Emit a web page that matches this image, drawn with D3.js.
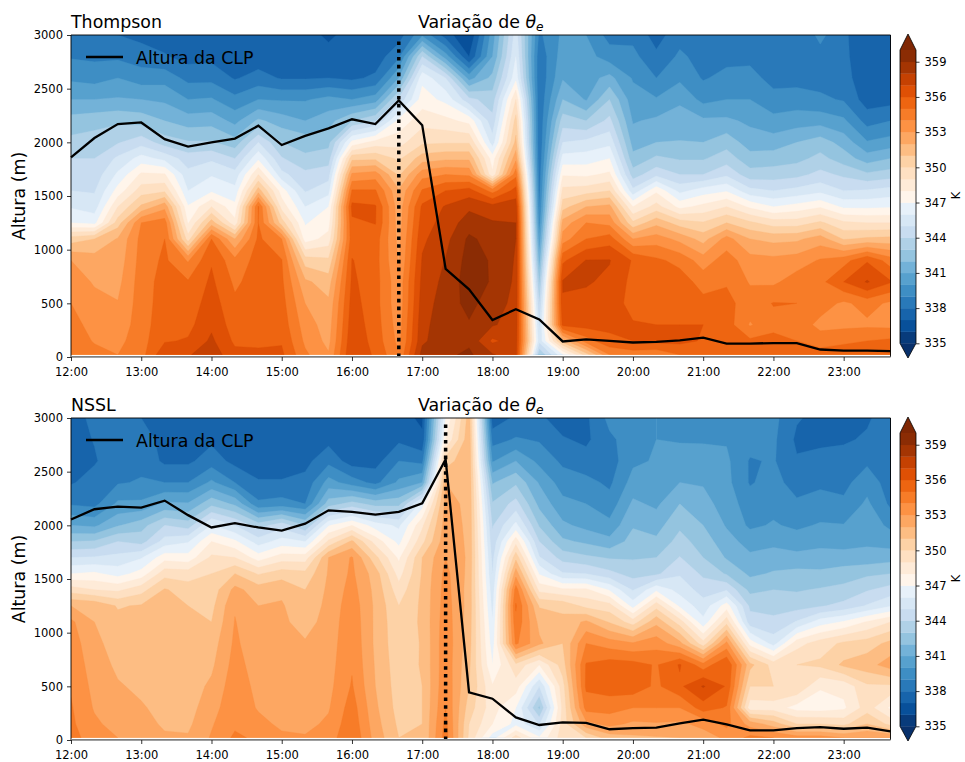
<!DOCTYPE html>
<html><head><meta charset="utf-8">
<script src="https://cdn.jsdelivr.net/npm/d3@7"></script>
<style>html,body{margin:0;background:#fff}svg{display:block}text{font-family:"DejaVu Sans",sans-serif;fill:#000}</style>
</head><body><svg id="c" width="965" height="762"></svg>
<script>
const heights=[20,150,300,500,700,900,1100,1250,1400,1550,1700,1850,2000,2200,2400,2600,2800,3000];
const hourLabels=["12:00","13:00","14:00","15:00","16:00","17:00","18:00","19:00","20:00","21:00","22:00","23:00"];
const hourTicks=[12,13,14,15,16,17,18,19,20,21,22,23];
const heightTicks=[0,500,1000,1500,2000,2500,3000];
const levels=d3.range(335,361);
const cbarTicks=[335,338,341,344,347,350,353,356,359];
const times=d3.range(36).map(i=>12+i/3);
const clpThompson=[1860,2040,2170,2185,2030,1960,2000,2035,2155,1975,2060,2130,2215,2170,2390,2160,820,630,345,445,350,145,165,150,135,140,155,180,125,125,130,130,70,60,60,55];
const clpNSSL=[2055,2150,2175,2165,2230,2095,1980,2020,1980,1950,2015,2140,2125,2100,2125,2205,2615,445,385,210,140,165,160,100,110,115,155,190,145,90,90,110,120,105,115,80];
const thetaThompson=[
[355,354.7,354.3,354,353.5,353,350.5,347,345.9,345,344.6,344,343.3,342.4,341,339.8,338.9,338.3],
[354.4,353.9,353.7,353.3,352.9,352.5,351,346.7,345.5,344.9,344.4,344,343.5,342.6,341,339.6,338.8,338.1],
[354,353.7,353.4,353.05,352.7,352.4,352.1,350.5,349,347.4,346.2,345.2,343.9,342.8,341.1,340,338.8,338],
[354.6,354.6,354.5,354.5,354.5,354.4,354.3,354,351.2,349.5,348.2,346.4,344.6,342.6,341,339.5,338.5,337.7],
[356.8,355.9,355.7,355.5,355.4,355.2,355,354.5,352.7,349.8,348.1,345.7,343.5,342,340.8,339.6,338.1,337.5],
[356.9,356.1,355.7,355.4,355.1,353.9,349.5,347.9,347.1,346,345.3,344.5,343.1,341.5,340,338.7,337.6,337.2],
[357.6,357.2,356.8,356.5,356.2,355.9,355,351.5,349,346.8,345.9,344.8,343.1,341.6,340.1,338.7,337.7,337.2],
[356.3,355.8,355.5,355.2,354.8,354.3,352,348.3,347.3,346.3,345.4,344,342.4,340.7,339.3,337.9,337.3,337.1],
[356.2,355.8,355.7,355.6,355.5,355.4,355.2,355,355.1,351.5,349,346.8,345,342.2,340,338.4,337.4,337.1],
[356.2,355.9,355.6,355.4,355.2,355.05,354,350.5,348.6,347.5,345.3,344.1,343,341.5,339.9,337.9,337.3,337.1],
[354.2,353.8,353.5,353,352.2,350.5,347.5,346.9,346,344.9,344.3,343.2,342.6,341,339.9,337.9,337.3,337.2],
[353.1,352.7,352.5,352.2,351.5,350.2,348.4,347.6,347,345.6,344.6,343.5,342.7,341.6,340.3,338,337.2,336.9],
[357,356.8,356.6,356.4,356.2,356.05,355.6,355.8,356.3,355.1,353.2,350.7,347.3,343,340,337.8,337.3,337.2],
[355.8,355.6,355.5,355.4,355.4,355.4,355.5,356.05,356.1,355.1,353.5,350.8,348.4,343.9,340.5,338.2,337.4,337.2],
[354.1,353.7,353.5,353.3,353.3,352.9,352.7,352.5,352.4,352.1,350.8,349.8,348.6,347.3,344.2,341,338.8,337.5],
[358.4,357.8,357.7,357.5,357.3,357.1,356.8,356.5,356.2,355.1,353.6,351.5,349.8,348.6,347.5,346.7,344,339.8],
[358.8,358.7,358.6,358.5,358.3,358.05,357.7,357.4,357.1,356,354,351.8,349.9,348.3,346.7,345,340.5,337.5],
[359.2,358.8,358.9,359.3,359.5,359.4,359.2,358.5,357.8,356.4,353.8,351.8,349.9,347.7,344.3,340.6,337,336],
[358.1,356.8,358.1,358.5,358.9,358.9,358.6,358.1,357.4,354.6,348.2,347.5,345.5,344.3,343.5,342.3,341,340.5],
[357.4,357.5,357.6,357.7,357.8,357.9,358,358,357.6,356.4,354.7,352.7,351.3,350.4,349,346.7,346,345.5],
[343,345.3,344.8,344,342.8,341.5,340.3,339.5,339,338.7,338.5,338.3,338.2,338.2,338.2,338.2,338.3,338.8],
[346.8,351.5,356.3,356.9,357.1,355.8,353.5,352.4,350.6,349.3,347.9,346.4,345,343.5,342,340.9,340.5,340.2],
[350.5,354.5,356.4,356.7,357.1,357.05,355,354,352,349.5,347.8,346.5,345.3,343,340.9,340.6,340.4,340],
[354,355.8,356.2,356.3,356.8,357.05,355.5,353.7,352.3,350,348.2,347,345.7,344.3,343,341.3,339.5,338.6],
[354.5,356,356.05,355.8,355.7,355.9,353,350.2,348,345.3,343.5,342.3,341.6,340.9,340.4,339.9,339.3,338.7],
[354.2,356.3,356,355.6,355.5,355.2,353.5,351.7,349.4,347.8,344.7,343.2,342,341.2,340.1,339,338.2,337.6],
[355,356.3,356,355.7,355.5,354.7,352.7,350.5,347.7,345.7,344,342.9,342.05,341.5,340.8,339.8,339.2,338.6],
[355.2,355.9,356,355.3,354.6,353.5,351.6,350.1,348.3,346.5,344,342.9,342,341.2,339.7,338.9,338.6,338.4],
[355,355.6,355.5,355.3,354.9,354.5,353.4,351,349,346.9,344.8,343.5,342.6,341.2,340,339.3,338.7,338.3],
[355.5,355.2,353.9,354.5,353.9,353.4,352,350.2,347.8,345.3,343.4,342.4,341.5,340.8,340,339.4,338.7,338.3],
[356,355.3,354.7,355.05,353.8,353.3,351.7,349.5,347,345,343.5,342.5,341.5,340.3,339.4,338.6,338.3,338.1],
[355.7,355,354.6,355,354.5,353.5,351.8,349.5,347.4,345.3,343.7,342.7,342,340.5,339.5,338.6,338.2,338],
[355.5,354.5,353.7,354.5,354.7,354.1,352.5,350.2,347.9,345.7,344.3,343.3,342.5,340.6,339.2,338.6,338.6,339.3],
[355.3,354.9,353.7,353.8,356,354.6,350.9,349.2,346.8,345,343.8,342.5,341.6,340.2,338.9,338.4,338.2,338.1],
[355.3,355,353.8,354.4,357.1,355.9,351.2,349,346.8,345.1,343.2,341.5,340.1,338.6,337.5,337.3,337.4,337.6],
[355,355.2,353.7,353.8,356.1,354.5,351.3,349,346.9,345.4,343.5,342,340.4,339,337.6,337.5,337.6,337.6]];
const thetaNSSL=[
[354.3,354.2,354.1,353.9,353.7,353.5,353.2,352,349.5,347,345,343,341,338.9,337.9,337.7,337.6,337.5],
[353.6,353.2,352.9,352.7,352.5,352.3,352,351.8,349,347.2,345.1,343.1,340.8,338.7,338.4,337.9,338.05,338.3],
[353,352.6,352.4,352.1,351.8,351.5,351.3,350.9,348.8,346.6,345.3,344,341.9,340.2,338.9,338.6,338.4,338.2],
[352.9,352.5,352.1,351.8,351.6,351.5,351.3,351.1,349.6,347.4,345.9,343.6,342.6,340.2,339.1,338.7,338.4,338],
[352.2,351.8,351.7,351.6,351.5,351.4,351.3,351.2,351.1,349.6,347.6,345.4,344,341.2,339,337.8,337.7,337.6],
[352.1,351.8,351.6,351.5,351.4,351.3,351.2,351,350.5,349.5,347.4,345.9,343.5,341.1,339,337.8,337.6,337.5],
[353.1,352.9,352.6,352.2,351.8,351.5,351,350.7,350.4,350,349.2,348,346.05,342.7,340.2,338.5,337.8,337.5],
[354.2,353.8,353.7,353.6,353.4,353.2,353.05,352.9,352.3,351,349,347.2,345,341.8,339,337.7,337.4,337.3],
[353.8,353.3,352.9,352.7,352.5,352.3,352.2,352,351.5,349.9,347.5,345.5,343.5,339.2,338.1,337.4,337.2,337.1],
[353.2,352.8,352.6,352.5,352.4,352.3,352.2,352.1,351.8,350.5,348.5,346.4,344.6,339.4,338.1,337.4,337.2,337.1],
[353.1,352.7,352.5,352.3,352.2,352.1,351.6,351.3,351,350.3,348.5,346,343,339,338.3,337.7,337.4,337.3],
[353.5,353.2,352.9,352.7,352.6,352.5,352.4,352.3,352.2,352.1,352,349.2,346.9,342.5,340.4,338.7,337.7,337.4],
[354.9,354.7,354.5,354.1,353.9,353.8,353.7,353.6,353.4,353.2,353.1,351.2,348,343.4,339.5,337.5,337.1,337],
[352.6,352.4,352.2,352,351.9,351.8,351.8,351.8,351.7,351.5,350.3,348.6,346.5,342.6,338.7,337.6,337.2,337],
[351,350.8,350.6,350.5,350.4,350.3,350.2,350,349.4,348.6,347.8,346.7,345.8,342.7,340.2,339,337.8,337.4],
[351,351,351,351,351.1,351.1,351.2,351.2,351.2,351.1,351,349.7,348.8,346.5,341,338.7,337.2,336.8],
[354.5,354.3,354,353.8,353.7,353.7,353.6,353.5,353.4,353.3,353,352.7,352.5,352.3,352,350.5,348,347],
[349.8,350,350.5,351,351.2,351.4,351.5,351.6,351.6,351.7,351.8,351.8,351.8,351.8,351.8,351.8,351.7,351.5],
[346.5,348,348.4,348.1,347,346.5,346.1,345.7,345.4,345,344.7,344.3,343.9,343.1,341.9,339.9,338.6,337.4],
[349.5,346.7,347,348.5,349.7,354.2,354.8,355.1,354.5,352.6,350.7,348.6,346.3,344.4,342.8,341,339.1,338.2],
[347.2,344.9,342.8,345,348,352.2,351.7,350.9,348.7,346.9,345.1,344,342.9,341.7,340.9,339.7,338.9,338.2],
[349.5,349.4,349.3,349.6,350.5,351,351.3,350.7,348.2,345.1,343.6,342.2,341.2,340.3,339.5,338.8,338.1,337.5],
[350,352.7,354.4,355.2,355.1,354,352.2,349.7,348.2,345,343.2,341.8,340.7,340,339.3,338.4,337.8,337.8],
[351.5,353.3,354.4,355.5,355.5,353.5,350.9,349.4,346.9,344.3,342.9,341.3,340.3,339.4,338.8,338.5,338.8,339.3],
[351.8,352.8,354,355.6,355.4,353.1,349.5,346.6,344.9,343.6,342.9,342.4,341.9,341.2,340.4,339.8,339.5,339.4],
[351.9,352.9,354,354.8,354.9,353.6,351.7,349.6,346.8,343.8,343,342.2,341.6,340.8,340.3,340.1,340,340],
[352,352.8,354,355.8,356.1,352.3,349.5,346.8,345.6,344.9,344.05,343.4,342.8,342,341,340.5,339.9,339.7],
[352.5,353.3,355.5,357.1,354.4,349.4,346.3,345.4,344.6,343.8,343,342.5,342,341.4,340.9,340.4,339.9,339.7],
[353.2,354.3,354.9,355.9,356,353.3,349.6,347.5,344.9,342.9,341.9,341.4,340.9,340.5,340.3,340.2,339.9,339.5],
[354.3,352.6,348.4,350,351.3,347.6,344.4,343.8,342.7,341.8,341.2,340.6,339.8,339.5,338.9,338.9,339.5,339.5],
[354,351.5,348.5,350,349.6,345.6,344.2,343.7,343,342.1,341.5,340.7,340.1,339.7,339.4,339.1,339.2,339.3],
[353.5,350,347.6,349.9,350,348.6,345.1,343.6,342.9,342.3,341.3,340.5,339.8,339.2,338.5,338.1,337.8,338.1],
[353.5,350,347.5,348.1,350.2,349.5,346.5,343.9,343.1,342.2,341.4,340.7,340.1,339.4,338.8,338.3,337.8,337.7],
[353,349.7,347.8,348.3,351.2,350.2,347.1,344.3,343.3,342.5,341.4,340.6,340.05,339.2,338.7,338.3,337.9,337.7],
[353,351,349.5,349.8,351.6,350.5,348.1,345.1,343.9,342.8,341.4,340.8,340.5,340.2,339.6,338.8,338.1,337.9],
[353,349.7,347.8,349.8,352.5,351.3,349,345.9,344.4,343,341.6,340.5,339.8,338.8,338.5,338.3,338.3,338.4]];
const panels=[
 {name:"Thompson",theta:thetaThompson,clp:clpThompson,mark:16+2/3,top:35,id:"a"},
 {name:"NSSL",theta:thetaNSSL,clp:clpNSSL,mark:17+1/3,top:418,id:"b"}];
const svg=d3.select("#c");
const L=71,R=890.5,H=322;
const x=d3.scaleLinear().domain([12,23+2/3]).range([L,R]);
const blues=d3.piecewise(d3.interpolateRgb,[...d3.schemeBlues[9]].reverse());
const oranges=d3.piecewise(d3.interpolateRgb,d3.schemeOranges[9]);
const colorOf=v=>{const t=(v-335)/25;return t<.5?blues(Math.max(0,2*t)):oranges(Math.min(1,2*t-1));};
panels.forEach(p=>{
 const g=svg.append("g").attr("transform",`translate(0,${p.top})`);
 const y=d3.scaleLinear().domain([0,3000]).range([H,0]);
 const xIndex=d3.scaleLinear().domain([0,35]).range([x(times[0]),x(times[35])]);
 const yIndex=d3.scaleLinear().domain(d3.range(heights.length)).range(heights.map(y));
 svg.append("clipPath").attr("id","clip"+p.id).append("rect").attr("x",L).attr("y",p.top).attr("width",R-L).attr("height",y(heights[0]));
 const nx=times.length,ny=heights.length,vals=[];
 for(let j=0;j<ny;j++)for(let i=0;i<nx;i++)vals.push(p.theta[i][j]);
 const contours=d3.contours().size([nx,ny]).thresholds(levels).smooth(true)(vals);
 const proj=d3.geoTransform({point(a,b){this.stream.point(xIndex(a-.5),yIndex(Math.max(0,Math.min(ny-1,b-.5))));}});
 const path=d3.geoPath(proj);
 const cg=g.append("g").attr("clip-path",`url(#clip${p.id})`).attr("transform",`translate(0,${-p.top})`).append("g").attr("transform",`translate(0,${p.top})`);
 cg.append("rect").attr("x",L).attr("y",0).attr("width",R-L).attr("height",H).attr("fill",colorOf(334));
 cg.selectAll("path").data(contours).join("path").attr("d",path)
  .attr("fill",d=>d.value>=360?colorOf(361):colorOf(d.value+.5)).attr("stroke",d=>d.value>=360?colorOf(361):colorOf(d.value+.5)).attr("stroke-width",.35);
 const line=d3.line().x((d,i)=>x(times[i])).y(d=>y(d));
 g.append("path").datum(p.clp).attr("d",line).attr("fill","none").attr("stroke","#000").attr("stroke-width",2.3);
 g.append("line").attr("x1",x(p.mark)).attr("x2",x(p.mark)).attr("y1",y(0)).attr("y2",y(2960)).attr("stroke","#000").attr("stroke-width",3.5).attr("stroke-dasharray","3.6 4.2");
 g.append("path").attr("d",`M${L},${H}V0H${R}V${H}`).attr("fill","none").attr("stroke","#000").attr("stroke-width",.9);
 g.append("line").attr("x1",L).attr("x2",R).attr("y1",H-.2).attr("y2",H-.2).attr("stroke","#808080").attr("stroke-width",1.8);
 const ax=g.append("g").attr("transform",`translate(0,${H})`).call(d3.axisBottom(x).tickValues(hourTicks).tickFormat((d,i)=>hourLabels[i]).tickSize(4).tickPadding(6.8));
 const ay=g.append("g").attr("transform",`translate(${L},0)`).call(d3.axisLeft(y).tickValues(heightTicks).tickFormat(d3.format("d")).tickSize(4).tickPadding(4));
 [ax,ay].forEach(a=>{a.select(".domain").remove();a.selectAll("line").attr("stroke","#000").attr("stroke-width",.8);a.selectAll("text").attr("font-size",11.5).attr("font-family","DejaVu Sans").attr("fill","#000");});
 g.append("text").attr("x",L).attr("y",-7).attr("font-size",17.4).text(p.name);
 const t=g.append("text").attr("x",(L+R)/2).attr("y",-7).attr("text-anchor","middle").attr("font-size",17.4);
 t.append("tspan").text("Variação de ");
 t.append("tspan").attr("font-style","italic").text("θ");
 t.append("tspan").attr("font-style","italic").attr("font-size",12.2).attr("dy",3).text("e");
 g.append("text").attr("transform",`translate(25,${H/2}) rotate(-90)`).attr("text-anchor","middle").attr("font-size",17.4).text("Altura (m)");
 g.append("line").attr("x1",86).attr("x2",123).attr("y1",22).attr("y2",22).attr("stroke","#000").attr("stroke-width",2.3);
 g.append("text").attr("x",136).attr("y",28.5).attr("font-size",17.4).text("Altura da CLP");
 // colorbar
 const cb=g.append("g");
 const cy=d3.scaleLinear().domain([335,360]).range([308.3,15]);
 const cbx=900,cbw=16;
 cb.selectAll("rect").data(levels.slice(0,-1)).join("rect").attr("x",cbx).attr("width",cbw).attr("y",d=>cy(d+1)).attr("height",d=>cy(d)-cy(d+1)+.3).attr("fill",d=>colorOf(d+.5));
 cb.append("path").attr("d",`M${cbx},${cy(360)}L${cbx+cbw/2},-1L${cbx+cbw},${cy(360)}Z`).attr("fill",colorOf(361));
 cb.append("path").attr("d",`M${cbx},${cy(335)}L${cbx+cbw/2},${H+1}L${cbx+cbw},${cy(335)}Z`).attr("fill",colorOf(334));
 cb.append("path").attr("d",`M${cbx},${cy(335)}L${cbx+cbw/2},${H+1}L${cbx+cbw},${cy(335)}L${cbx+cbw},${cy(360)}L${cbx+cbw/2},-1L${cbx},${cy(360)}Z`).attr("fill","none").attr("stroke","#000").attr("stroke-width",.8);
 const ac=g.append("g").attr("transform",`translate(${cbx+cbw},0)`).call(d3.axisRight(cy).tickValues(cbarTicks).tickFormat(d3.format("d")).tickSize(3.5).tickPadding(5));
 ac.select(".domain").remove();ac.selectAll("line").attr("stroke","#000").attr("stroke-width",.8);
 ac.selectAll("text").attr("font-size",11.5).attr("font-family","DejaVu Sans").attr("fill","#000");
 g.append("text").attr("transform",`translate(960,${cy(347.6)}) rotate(-90)`).attr("text-anchor","middle").attr("font-size",11.5).text("K");
});
</script></body></html>
